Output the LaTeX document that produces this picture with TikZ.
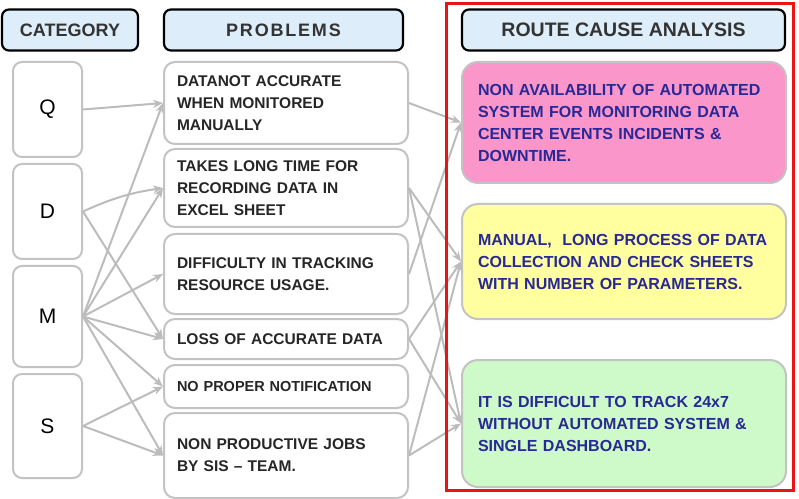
\documentclass[tikz,border=0pt]{standalone}
\usepackage{fontspec}
\setmainfont{Liberation Sans}
\usetikzlibrary{positioning,arrows.meta}

\definecolor{headblue}{RGB}{221,238,250}
\definecolor{boxgray}{RGB}{195,195,195}
\definecolor{linkgray}{RGB}{188,188,188}
\definecolor{causeblue}{RGB}{40,40,150}
\definecolor{causepink}{RGB}{250,150,202}
\definecolor{causeyellow}{RGB}{255,255,160}
\definecolor{causegreen}{RGB}{205,250,200}
\definecolor{framered}{RGB}{235,20,20}

\begin{document}
\begin{tikzpicture}[
  x=1pt, y=1pt,
  head/.style={draw=black, line width=2.2pt, rounded corners=7pt, fill=headblue,
               minimum height=41pt, text=black!80,
               font=\fontsize{18}{20}\selectfont\bfseries},
  cat/.style={draw=boxgray, line width=2pt, rounded corners=9pt, fill=white,
              minimum width=69pt, font=\fontsize{21}{24}\selectfont},
  prob/.style={draw=boxgray, line width=2pt, rounded corners=11pt, fill=white,
               text width=218pt, inner xsep=13pt, align=left, text=black!85,
               font=\fontsize{15.5}{22}\selectfont\bfseries},
  cause/.style={draw=boxgray, line width=2pt, rounded corners=16pt,
                text width=292pt, inner xsep=16pt, align=left, text=causeblue,
                font=\fontsize{16}{22}\selectfont\bfseries},
  link/.style={draw=linkgray, line width=2pt, -{Stealth[length=10pt,width=8pt]}}
]
  \useasboundingbox (0,0) rectangle (799,498);

  % column headers
  \node[head, minimum width=136pt] (cathead) at (70,468) {CATEGORY};
  \node[head, minimum width=239pt] (probhead) at (283.5,468)
    {\addfontfeature{LetterSpace=10}PROBLEMS};
  \node[head, minimum width=323pt, font=\fontsize{19.5}{20}\selectfont\bfseries]
    (causehead) at (623.5,468) {ROUTE CAUSE ANALYSIS};

  % categories
  \node[cat, minimum height=95pt] (q) at (47.5,388.5) {Q};
  \node[cat, minimum height=95pt, below=5pt of q] (d) {D};
  \node[cat, minimum height=101pt, below=5pt of d] (m) {M};
  \node[cat, minimum height=104pt, below=5pt of m] (s) {S};

  % problems
  \node[prob, minimum height=82pt] (p1) at (286,395)
    {DATANOT ACCURATE\\WHEN MONITORED\\MANUALLY};
  \node[prob, minimum height=78pt, below=3pt of p1] (p2)
    {TAKES LONG TIME FOR\\RECORDING DATA IN\\EXCEL SHEET};
  \node[prob, minimum height=80pt, below=5pt of p2] (p3)
    {DIFFICULTY IN TRACKING\\RESOURCE USAGE.};
  \node[prob, minimum height=40pt, below=3pt of p3] (p4)
    {LOSS OF ACCURATE DATA};
  \node[prob, minimum height=43pt, below=4pt of p4,
        font=\fontsize{14.5}{22}\selectfont\bfseries] (p5)
    {NO PROPER NOTIFICATION};
  \node[prob, minimum height=85pt, below=3pt of p5] (p6)
    {NON PRODUCTIVE JOBS\\BY SIS -- TEAM.};

  % root causes
  \node[cause, fill=causepink, minimum height=121pt] (pink) at (624,375.5)
    {NON AVAILABILITY OF AUTOMATED\\SYSTEM FOR MONITORING DATA\\CENTER EVENTS INCIDENTS \&\\DOWNTIME.};
  \node[cause, fill=causeyellow, minimum height=115pt, below=19pt of pink] (yellow)
    {MANUAL,\ \ LONG PROCESS OF DATA\\COLLECTION AND CHECK SHEETS\\WITH NUMBER OF PARAMETERS.};
  \node[cause, fill=causegreen, minimum height=127pt, below=39pt of yellow] (green)
    {IT IS DIFFICULT TO TRACK 24x7\\WITHOUT AUTOMATED SYSTEM \&\\SINGLE DASHBOARD.};

  % category -> problem
  \draw[link] (q.east) -- (p1.west);
  \draw[link] (d.east) to[bend left=8] (p2.west);
  \draw[link] (d.east) -- (p4.west);
  \draw[link] (m.east) -- (p1.west);
  \draw[link] (m.east) -- (p2.west);
  \draw[link] (m.east) -- (p3.west);
  \draw[link] (m.east) -- (p4.west);
  \draw[link] (m.east) -- (p5.west);
  \draw[link] (m.east) -- (p6.west);
  \draw[link] (s.east) -- (p5.west);
  \draw[link] (s.east) -- (p6.west);

  % problem -> root cause
  \draw[link] (p1.east) -- (pink.west);
  \draw[link] (p3.east) -- (pink.west);
  \draw[link] (p2.east) -- (yellow.west);
  \draw[link] (p4.east) -- (yellow.west);
  \draw[link] (p6.east) -- (yellow.west);
  \draw[link] (p2.east) -- (green.west);
  \draw[link] (p4.east) -- (green.west);
  \draw[link] (p6.east) -- (green.west);

  % frame round the analysis column
  \draw[framered, line width=3pt] (446,494) rectangle (793,8);
\end{tikzpicture}
\end{document}
